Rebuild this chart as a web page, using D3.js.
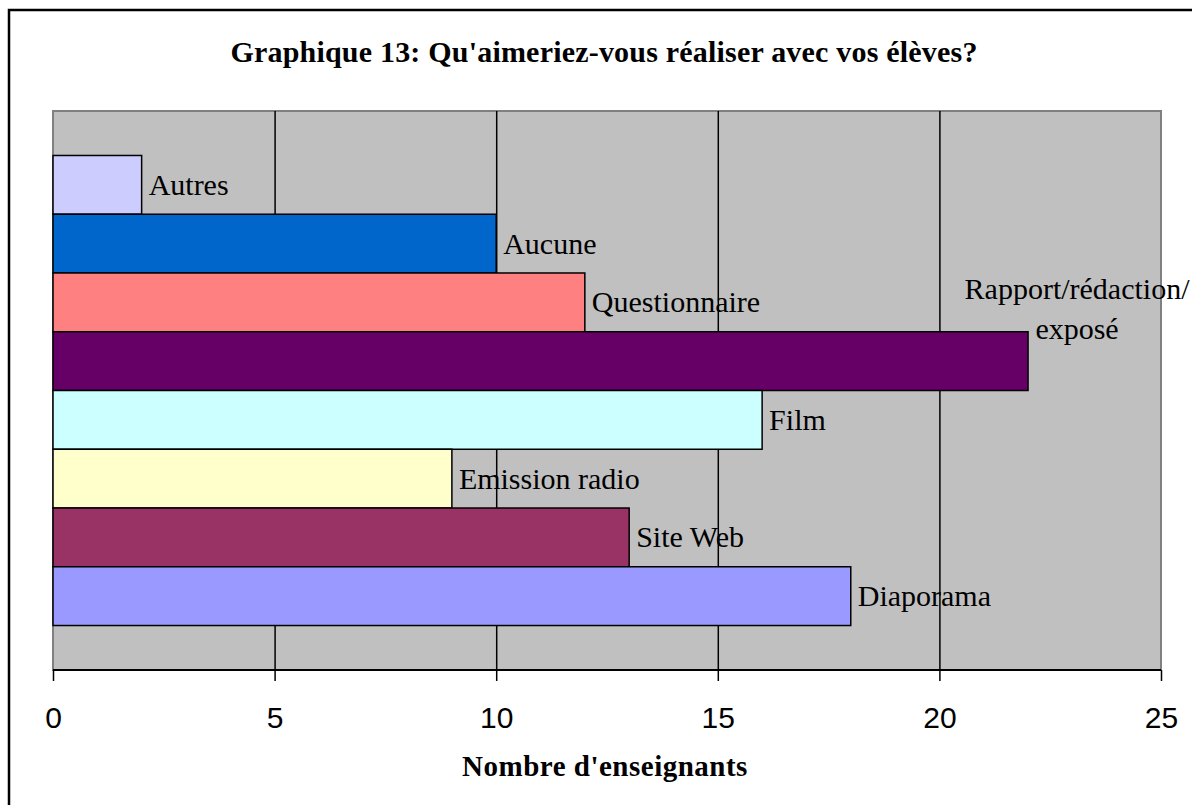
<!DOCTYPE html>
<html lang="fr">
<head>
    <meta charset="UTF-8">
    <title>Graphique 13</title>
    <script src="https://d3js.org/d3.v7.min.js"></script>
    <style>
        body { margin: 0; background: #fff; }
        .title, .axis-title { font-family: "Liberation Serif", "Times New Roman", serif; font-weight: bold; font-size: 30px; }
        .bar-label { font-family: "Liberation Serif", "Times New Roman", serif; font-size: 30px; fill: #000; }
        .axis text { font-family: "Liberation Sans", Arial, sans-serif; font-size: 30px; fill: #000; }
    </style>
</head>
<body>
<script>

// ================== DATA ==================
var categories = ["Autres", "Aucune", "Questionnaire", "Rapport/rédaction/\nexposé", "Film", "Emission radio", "Site Web", "Diaporama"];
var values = [2, 10, 12, 22, 16, 9, 13, 18];
var colors = ["#CCCCFF", "#0066CC", "#FF8080", "#660066", "#CCFFFF", "#FFFFCC", "#993366", "#9999FF"];
var tickValues = [0, 5, 10, 15, 20, 25];

// ================== INIT SVG ==================
var w = 1192;
var h = 805;
var plot = { left: 53, right: 1161, top: 111, bottom: 670 };

var svg = d3.select("body").append("svg")
    .attr("width", w)
    .attr("height", h);

// outer frame (cropped at right / bottom in the original)
svg.append("rect")
    .attr("x", 9).attr("y", 10)
    .attr("width", 1300).attr("height", 900)
    .attr("fill", "#fff")
    .attr("stroke", "#000")
    .attr("stroke-width", 2.5);

// ================== SCALES ==================
var x = d3.scaleLinear()
    .domain([0, 25])
    .range([plot.left, plot.right]);

var y = d3.scaleBand()
    .domain(categories)
    .range([plot.top, plot.bottom])
    .paddingInner(0)
    .paddingOuter(0.757);

// plot background
svg.append("rect")
    .attr("x", plot.left).attr("y", plot.top)
    .attr("width", plot.right - plot.left)
    .attr("height", plot.bottom - plot.top)
    .attr("fill", "#C0C0C0")
    .attr("stroke", "#808080")
    .attr("stroke-width", 2);

// gridlines
var xGridlines = d3.axisBottom(x)
    .tickValues([5, 10, 15, 20])
    .tickSize(plot.bottom - plot.top)
    .tickFormat("");

svg.append("g")
    .attr("transform", "translate(0," + plot.top + ")")
    .call(xGridlines)
    .call(function(g){
        g.select(".domain").remove();
        g.selectAll("line").attr("stroke", "#000").attr("stroke-width", 1.5);
    });

// ================== BARS ==================
svg.selectAll(".bar")
    .data(values)
    .enter()
    .append("rect")
    .classed("bar", true)
    .attr("x", x(0))
    .attr("y", function(d, i){ return y(categories[i]); })
    .attr("width", function(d){ return x(d) - x(0); })
    .attr("height", y.bandwidth())
    .attr("fill", function(d, i){ return colors[i]; })
    .attr("stroke", "#000")
    .attr("stroke-width", 1.5);

// labels
svg.selectAll(".bar-label")
    .data(values)
    .enter()
    .append("text")
    .classed("bar-label", true)
    .each(function(d, i){
        var lines = categories[i].split("\n");
        var t = d3.select(this);
        var cy = y(categories[i]) + y.bandwidth() / 2;
        if (lines.length === 1) {
            t.attr("x", x(d) + 7)
             .attr("y", cy + 10)
             .text(lines[0]);
        } else {
            // wrapped label sits above the bar end, centred
            var cx = x(d) + 49;
            lines.forEach(function(line, k){
                t.append("tspan")
                    .attr("x", cx)
                    .attr("y", cy - 62 + k * 40)
                    .attr("text-anchor", "middle")
                    .text(line);
            });
        }
    });

// ================== AXIS ==================
var xAxis = d3.axisBottom(x)
    .tickValues(tickValues)
    .tickSize(11)
    .tickPadding(26)
    .tickFormat(d3.format("d"));

svg.append("g")
    .classed("axis", true)
    .attr("transform", "translate(0," + plot.bottom + ")")
    .call(xAxis)
    .call(function(g){
        g.select(".domain").attr("stroke", "#000").attr("stroke-width", 2).attr("d", "M" + plot.left + ",0H" + plot.right);
        g.selectAll("line").attr("stroke", "#000").attr("stroke-width", 1.5);
    });

// ================== TITLES ==================
svg.append("text")
    .classed("title", true)
    .attr("x", 604)
    .attr("y", 62)
    .attr("text-anchor", "middle")
    .style("letter-spacing", "0.2px")
    .text("Graphique 13: Qu'aimeriez-vous réaliser avec vos élèves?");

svg.append("text")
    .classed("axis-title", true)
    .attr("x", 605)
    .attr("y", 776)
    .attr("text-anchor", "middle")
    .style("font-size", "29px")
    .style("letter-spacing", "0.5px")
    .text("Nombre d'enseignants");

</script>
</body>
</html>
